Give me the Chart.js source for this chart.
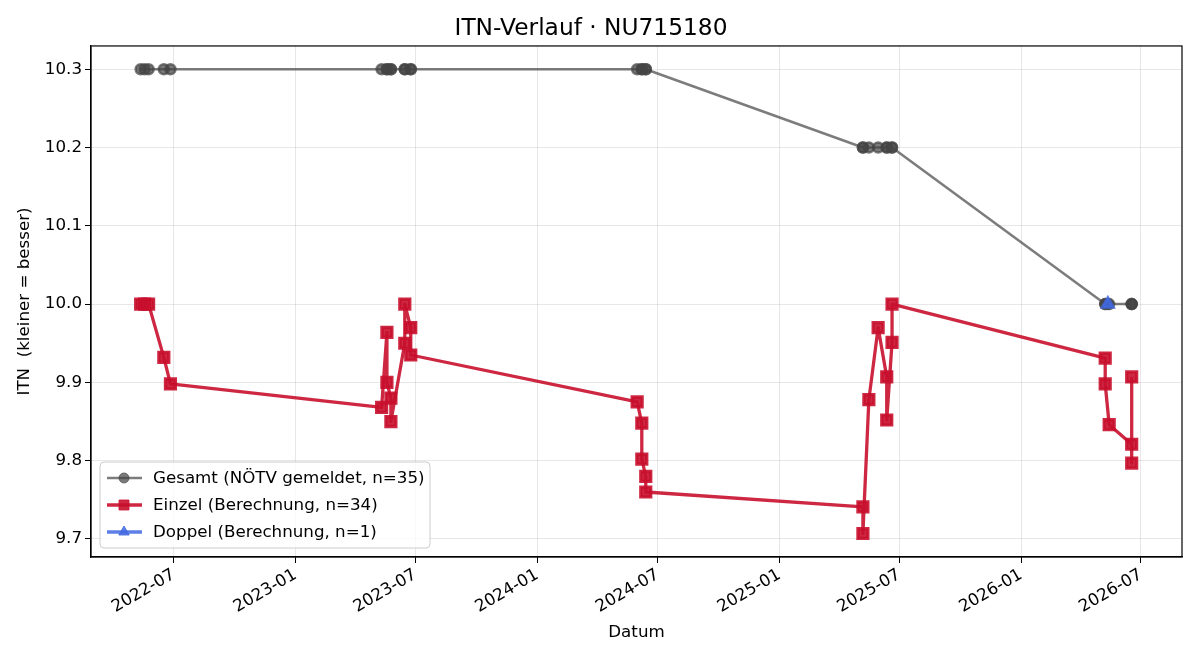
<!DOCTYPE html>
<html>
<head>
<meta charset="utf-8">
<script src="https://cdn.jsdelivr.net/npm/chart.js@4"></script>
<style>
  body { margin: 0; background: #fff; }
  #wrap { width: 1200px; height: 660px; }
</style>
</head>
<body>
<div id="wrap"><canvas id="itn" width="1200" height="660"></canvas></div>
<script>
// Gesamt (NÖTV gemeldet)
const gesamtDates = [
  "2022-05-12", "2022-05-18", "2022-05-24", "2022-06-16", "2022-06-26",
  "2023-05-11", "2023-05-19", "2023-05-19", "2023-05-25", "2023-05-25", "2023-06-15", "2023-06-15", "2023-06-24", "2023-06-24",
  "2024-05-31", "2024-06-07", "2024-06-07", "2024-06-13", "2024-06-13",
  "2025-05-07", "2025-05-07", "2025-05-16", "2025-05-30", "2025-06-12", "2025-06-12", "2025-06-20", "2025-06-20",
  "2026-05-08", "2026-05-08", "2026-05-12", "2026-05-14", "2026-06-17", "2026-06-17", "2026-06-17"
];
const gesamtValues = [
  10.3, 10.3, 10.3, 10.3, 10.3,
  10.3, 10.3, 10.3, 10.3, 10.3, 10.3, 10.3, 10.3, 10.3,
  10.3, 10.3, 10.3, 10.3, 10.3,
  10.2, 10.2, 10.2, 10.2, 10.2, 10.2, 10.2, 10.2,
  10.0, 10.0, 10.0, 10.0, 10.0, 10.0, 10.0
];

// Einzel (Berechnung)
const einzelDates = [
  "2022-05-12", "2022-05-18", "2022-05-24", "2022-06-16", "2022-06-26",
  "2023-05-11", "2023-05-19", "2023-05-19", "2023-05-25", "2023-05-25", "2023-06-15", "2023-06-15", "2023-06-24", "2023-06-24",
  "2024-05-31", "2024-06-07", "2024-06-07", "2024-06-13", "2024-06-13",
  "2025-05-07", "2025-05-07", "2025-05-16", "2025-05-30", "2025-06-12", "2025-06-12", "2025-06-20", "2025-06-20",
  "2026-05-08", "2026-05-08", "2026-05-14", "2026-06-17", "2026-06-17", "2026-06-17"
];
const einzelValues = [
  10.0, 10.0, 10.0, 9.932, 9.898,
  9.868, 9.964, 9.900, 9.880, 9.850, 9.950, 10.0, 9.970, 9.935,
  9.875, 9.848, 9.802, 9.780, 9.760,
  9.741, 9.707, 9.878, 9.970, 9.907, 9.852, 9.951, 10.0,
  9.931, 9.898, 9.846, 9.821, 9.797, 9.907
];

// Doppel (Berechnung)
const doppelDates = ["2026-05-12"];
const doppelValues = [10.0];

const seriesLabels = [
  "Gesamt (NÖTV gemeldet, n=35)",
  "Einzel (Berechnung, n=34)",
  "Doppel (Berechnung, n=1)"
];

const xTickDates = ["2022-07-01", "2023-01-01", "2023-07-01", "2024-01-01", "2024-07-01",
  "2025-01-01", "2025-07-01", "2026-01-01", "2026-07-01"];
const yTicks = [9.7, 9.8, 9.9, 10.0, 10.1, 10.2, 10.3];

const xMin = Date.parse("2022-02-26");
const xMax = Date.parse("2026-09-01");

const FONT = "DejaVu Sans";

function toPoints(dates, values) {
  return dates.map((d, i) => ({ x: Date.parse(d), y: values[i] }));
}

function fmtMonth(v) {
  const d = new Date(v);
  return d.getUTCFullYear() + "-" + String(d.getUTCMonth() + 1).padStart(2, "0");
}

// Rahmen um den Plotbereich + Legende unten links
const boxPlugin = {
  id: "boxAndLegend",
  afterDraw(chart) {
    const ctx = chart.ctx;
    const a = chart.chartArea;
    ctx.save();
    ctx.strokeStyle = "#000";
    ctx.lineWidth = 1.2;
    ctx.strokeRect(a.left, a.top, a.right - a.left, a.bottom - a.top);

    // legend frame
    const lx = a.left + 9, ly = a.bottom - 95, lw = 330, lh = 86;
    ctx.beginPath();
    ctx.roundRect(lx, ly, lw, lh, 4);
    ctx.fillStyle = "rgba(255,255,255,0.8)";
    ctx.fill();
    ctx.strokeStyle = "#cccccc";
    ctx.lineWidth = 1;
    ctx.stroke();

    ctx.font = "16.7px '" + FONT + "'";
    ctx.textBaseline = "middle";
    ctx.textAlign = "left";
    chart.data.datasets.forEach((ds, i) => {
      const y = ly + 16 + i * 27;
      ctx.strokeStyle = ds.borderColor;
      ctx.lineWidth = ds.borderWidth;
      ctx.beginPath();
      ctx.moveTo(lx + 7, y);
      ctx.lineTo(lx + 42, y);
      ctx.stroke();
      ctx.fillStyle = ds.pointBackgroundColor;
      ctx.strokeStyle = ds.pointBorderColor;
      ctx.lineWidth = 1;
      Chart.helpers.drawPoint(ctx, {
        pointStyle: ds.pointStyle,
        radius: ds.pointRadius,
        borderWidth: 1
      }, lx + 24, y);
      ctx.fillStyle = "#000";
      ctx.fillText(ds.label, lx + 53, y + 1);
    });
    ctx.restore();
  }
};

new Chart(document.getElementById("itn"), {
  type: "line",
  data: {
    datasets: [
      {
        label: seriesLabels[0],
        data: toPoints(gesamtDates, gesamtValues),
        borderColor: "rgba(68,68,68,0.7)",
        backgroundColor: "rgba(68,68,68,0.7)",
        pointBackgroundColor: "rgba(68,68,68,0.7)",
        pointBorderColor: "rgba(68,68,68,0.7)",
        borderWidth: 2.5,
        pointStyle: "circle",
        pointRadius: 5,
        order: 3
      },
      {
        label: seriesLabels[1],
        data: toPoints(einzelDates, einzelValues),
        borderColor: "rgba(200,16,46,0.9)",
        backgroundColor: "rgba(200,16,46,0.9)",
        pointBackgroundColor: "rgba(200,16,46,0.9)",
        pointBorderColor: "rgba(200,16,46,0.9)",
        borderWidth: 3.3,
        pointStyle: "rect",
        pointRadius: 7,
        order: 2
      },
      {
        label: seriesLabels[2],
        data: toPoints(doppelDates, doppelValues),
        borderColor: "rgba(65,105,225,0.85)",
        backgroundColor: "rgba(65,105,225,0.85)",
        pointBackgroundColor: "rgba(65,105,225,0.85)",
        pointBorderColor: "rgba(65,105,225,0.85)",
        borderWidth: 3.3,
        pointStyle: "triangle",
        pointRadius: 6,
        order: 1
      }
    ]
  },
  options: {
    responsive: false,
    animation: false,
    devicePixelRatio: 1,
    layout: { padding: { left: 0, right: 18, top: 0, bottom: 0 } },
    elements: { line: { tension: 0, fill: false, borderJoinStyle: "round" } },
    plugins: {
      legend: { display: false },
      tooltip: { enabled: false },
      title: {
        display: true,
        text: "ITN-Verlauf · NU715180",
        color: "#000",
        font: { family: FONT, size: 23.3, weight: "normal" },
        padding: { top: 15, bottom: 3 }
      }
    },
    scales: {
      x: {
        type: "linear",
        min: xMin,
        max: xMax,
        afterBuildTicks: (scale) => {
          scale.ticks = xTickDates.map((d) => ({ value: Date.parse(d) }));
        },
        afterFit: (scale) => {
          scale.height = 103;
          scale.paddingLeft = 0;
          scale.paddingRight = 0;
        },
        ticks: {
          autoSkip: false,
          minRotation: 30,
          maxRotation: 30,
          padding: 2,
          color: "#000",
          font: { family: FONT, size: 16.7 },
          callback: (v) => fmtMonth(v)
        },
        grid: {
          color: "rgba(176,176,176,0.3)",
          tickColor: "#000",
          tickLength: 6
        },
        border: { color: "#000", width: 1.2 },
        title: {
          display: true,
          text: "Datum",
          color: "#000",
          font: { family: FONT, size: 16.7 },
          padding: { top: 0, bottom: 17 }
        }
      },
      y: {
        min: 9.677,
        max: 10.3297,
        afterBuildTicks: (scale) => {
          scale.ticks = yTicks.map((v) => ({ value: v }));
        },
        afterFit: (scale) => {
          scale.width = 91;
          scale.paddingTop = 0;
          scale.paddingBottom = 0;
        },
        ticks: {
          padding: 3,
          color: "#000",
          font: { family: FONT, size: 16.7 },
          callback: (v) => Number(v).toFixed(1)
        },
        grid: {
          color: "rgba(176,176,176,0.3)",
          tickColor: "#000",
          tickLength: 6
        },
        border: { color: "#000", width: 1.2 },
        title: {
          display: true,
          text: "ITN  (kleiner = besser)",
          color: "#000",
          font: { family: FONT, size: 16.7 },
          padding: { top: 15, bottom: 0 }
        }
      }
    }
  },
  plugins: [boxPlugin]
});
</script>
</body>
</html>
